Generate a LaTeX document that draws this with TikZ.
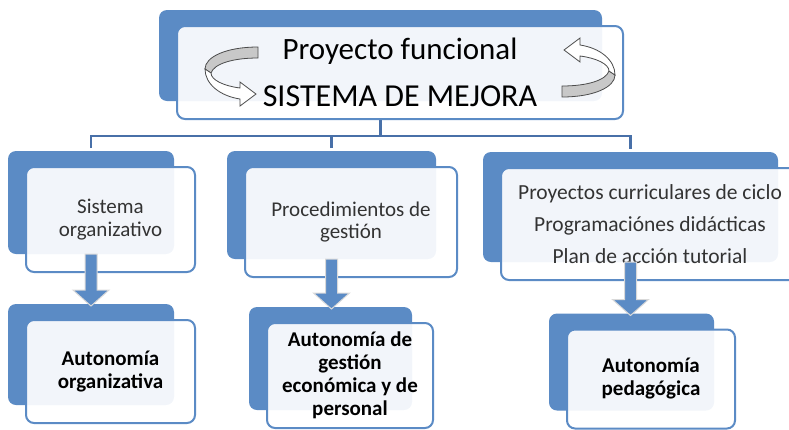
\documentclass[tikz,border=0pt]{standalone}
\usepackage{fontspec}
\setmainfont{Carlito}
\usetikzlibrary{calc,backgrounds}

\definecolor{boxblue}{RGB}{91,139,197}
\definecolor{linkblue}{RGB}{72,112,168}
\definecolor{ribbongray}{RGB}{200,200,200}

\begin{document}
\begin{tikzpicture}
	[x=1pt, y=-1pt,
	 frontbox/.style={draw=boxblue, line width=2pt, rounded corners=8pt,
		fill=white, fill opacity=0.92, text opacity=1,
		align=center, inner sep=0pt},
	 backbox/.style={fill=boxblue, rounded corners=8pt},
	 link/.style={draw=linkblue, line width=2.5pt},
	 downarrow/.style={fill=boxblue, draw=black!15, line width=1pt},
	 twistarrow/.style={draw=black!70, line width=0.8pt}]

	\useasboundingbox (0,0) rectangle (789,429);

	% front boxes
	\begin{scope}
		\node[frontbox, minimum width=446pt, minimum height=93pt, font=\fontsize{31}{47}\selectfont]
			(top) at (400,72.5) {Proyecto funcional\\{\fontsize{32}{47}\selectfont SISTEMA DE MEJORA}};

		% first row
		\begin{scope}[text=black!80]
			\node[frontbox, minimum width=169pt, minimum height=105pt, font=\fontsize{21}{23}\selectfont]
				(sysorg) at (110.5,219.5) {Sistema\\organizativo};
			\node[frontbox, minimum width=212pt, minimum height=110pt, font=\fontsize{21}{22}\selectfont]
				(procges) at (351,222) {Procedimientos de\\gestión};
			\node[frontbox, minimum width=298pt, minimum height=112pt, font=\fontsize{21.5}{32}\selectfont]
				(proycur) at (650,224) {Proyectos curriculares de ciclo\\Programaciónes didácticas\\Plan de acción tutorial};
		\end{scope}

		% second row
		\begin{scope}[font=\fontsize{21}{23}\selectfont\bfseries]
			\node[frontbox, minimum width=169pt, minimum height=103pt]
				(autorg) at (110.5,371.5) {Autonomía\\organizativa};
			\node[frontbox, minimum width=166pt, minimum height=105pt]
				(autges) at (350,375.5) {Autonomía de\\gestión\\económica y de\\personal};
			\node[frontbox, minimum width=168pt, minimum height=99pt]
				(autped) at (651,379) {Autonomía\\pedagógica};
		\end{scope}
	\end{scope}

	% back boxes and connectors
	\begin{pgfonlayer}{background}
		\newcommand{\BackBox}[1]{
			\fill[backbox] ($(#1.north west)+(-17,-15)$) rectangle ($(#1.south east)+(-22,-19)$);
			\coordinate (#1-top) at ($(#1.north)+(-19.5,-15)$);
			\coordinate (#1-bot) at ($(#1.south)+(-19.5,-19)$);
		}
		\foreach \n in {top,sysorg,procges,proycur,autorg,autges,autped} {
			\BackBox{\n}
		}

		\draw[link] (top-bot |- top.south) -- ++(0,16) coordinate (bar);
		\draw[link, shorten <=3pt, shorten >=3pt] (sysorg-top) |- (bar) -| (proycur-top);
		\draw[link, shorten <=3pt] (procges-top) -- (procges-top |- bar);
	\end{pgfonlayer}

	% arrows down
	\begin{scope}
		\newcommand{\DownArrow}[2]{
			\draw[downarrow] ($(#1)+(-6,0)$) -- ($(#1 |- #2)+(-6,-14)$) -- ($(#1 |- #2)+(-18,-14)$)
				-- ($(#1 |- #2)+(0,2)$) -- ($(#1 |- #2)+(18,-14)$) -- ($(#1 |- #2)+(6,-14)$)
				-- ($(#1)+(6,0)$) -- cycle;
		}
		\DownArrow{sysorg-bot}{autorg-top}
		\DownArrow{procges-bot}{autges-top}
		\DownArrow{proycur-bot}{autped-top}
	\end{scope}

	% twisted arrows in the top box
	\begin{scope}
		\newcommand{\TwistArrow}{
			\draw[twistarrow, fill=ribbongray] (258,47) .. controls (226,47) and (205,57) .. (205,69)
				-- (211,73) .. controls (214,64) and (232,58) .. (258,58) -- cycle;
			\draw[twistarrow, fill=white] (205,69) .. controls (205,84) and (220,96) .. (240,99)
				-- (240,106) -- (256,94) -- (240,82) -- (240,88)
				.. controls (224,86) and (211,80) .. (211,73) -- cycle;
		}
		\TwistArrow
		\begin{scope}[rotate around={180:(410,72)}]
			\TwistArrow
		\end{scope}
	\end{scope}

\end{tikzpicture}
\end{document}
